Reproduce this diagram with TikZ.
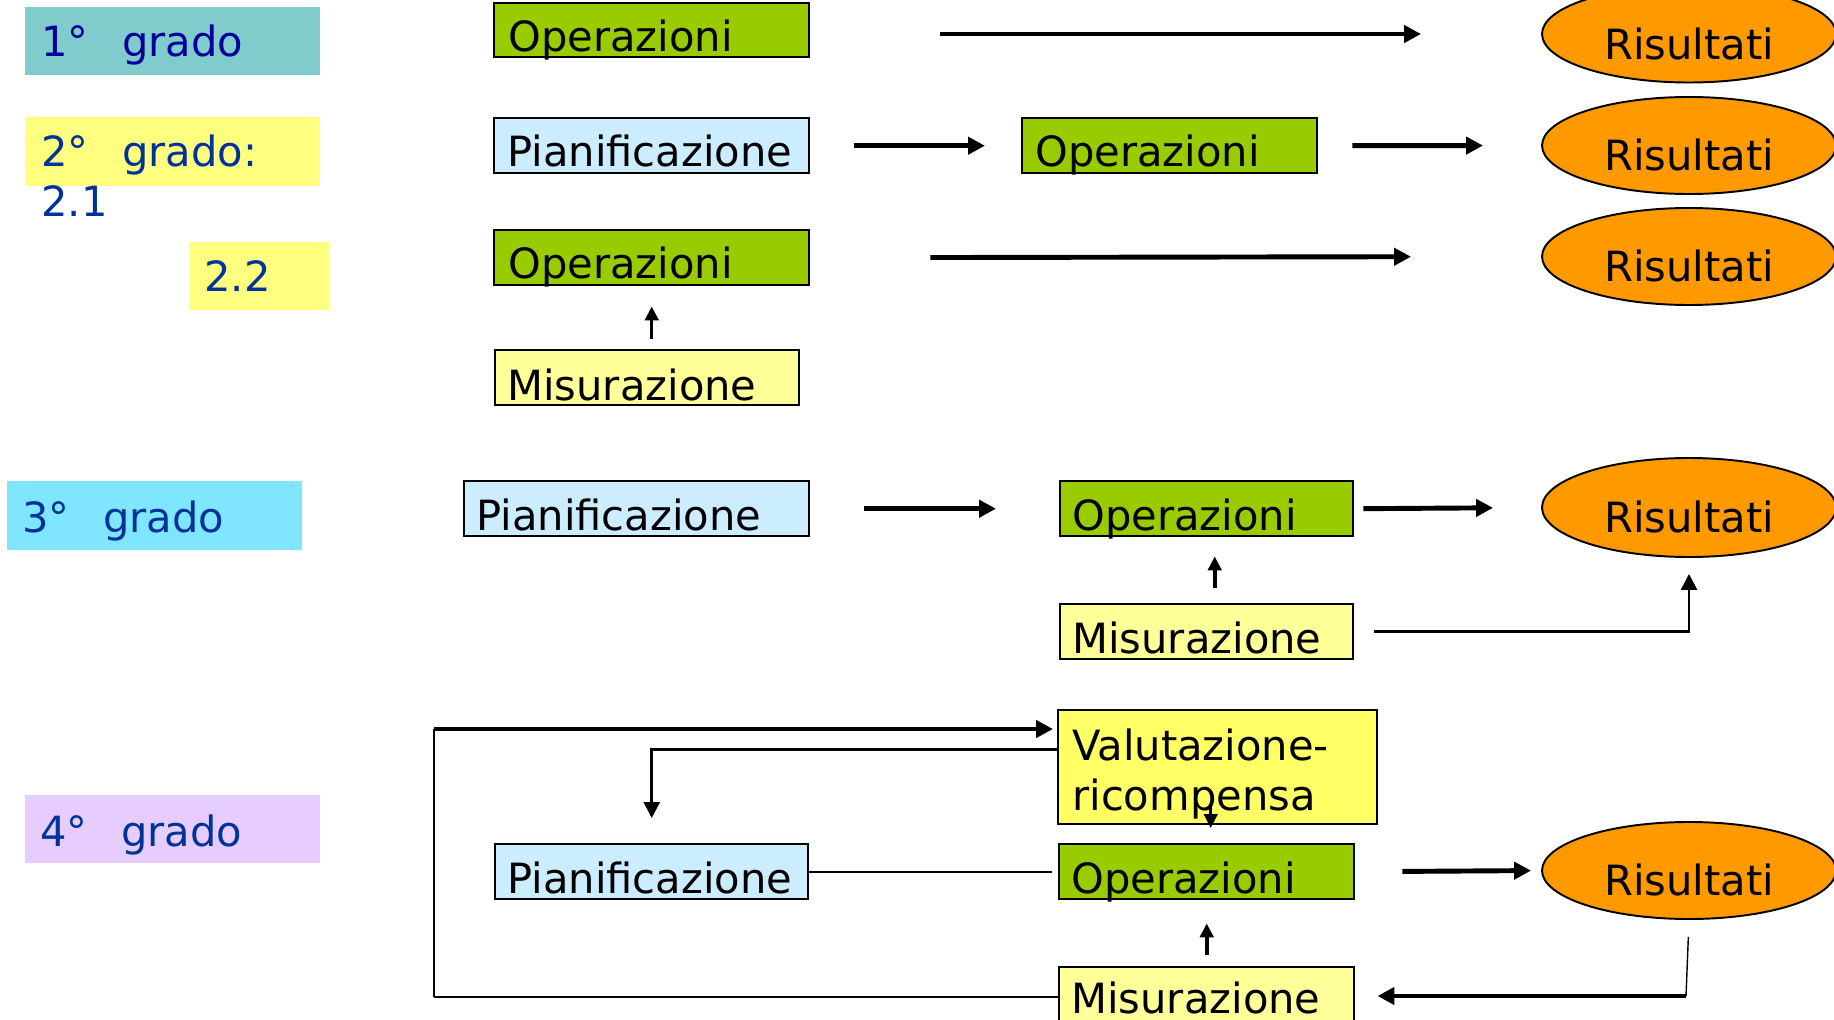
\documentclass[tikz,border=0pt]{standalone}
\usepackage{fontspec}
\setmainfont{DejaVu Sans}
\usetikzlibrary{arrows.meta,calc,shapes.geometric}
% one drawing unit = 0.02cm, usable inside pgfmath expressions
\newcommand{\pu}{*0.02cm}

\definecolor{tealbg}{HTML}{80CCCC}
\definecolor{yellowbg}{HTML}{FFFF80}
\definecolor{cyanbg}{HTML}{80E6FF}
\definecolor{lilacbg}{HTML}{E6CCFF}
\definecolor{navytxt}{HTML}{000099}
\definecolor{bluetxt}{HTML}{003399}
\definecolor{opgreen}{HTML}{99CC00}
\definecolor{planblue}{HTML}{CCECFF}
\definecolor{measyellow}{HTML}{FFFF99}
\definecolor{evalyellow}{HTML}{FFFF66}
\definecolor{resorange}{HTML}{FF9900}

\tikzset{
  txt/.style={font=\fontsize{23.7}{28}\selectfont, inner sep=0pt, anchor=base west},
  gradetag/.style={inner sep=0pt, anchor=north west, draw=none},
  stepbox/.style={draw=black, line width=1.4pt, inner sep=0pt, anchor=north west},
  opbox/.style={stepbox, fill=opgreen, minimum height=55\pu},
  planbox/.style={stepbox, fill=planblue, minimum height=55\pu},
  measbox/.style={stepbox, fill=measyellow, minimum height=55\pu},
  resnode/.style={ellipse, draw=black, line width=1.1pt, fill=resorange,
    inner sep=0pt, minimum width=294\pu, minimum height=97\pu},
  bigarrow/.style={line width=2.8pt, -{Triangle[length=0.34cm,width=0.34cm]}},
  medarrow/.style={line width=1.5pt, -{Triangle[length=0.32cm,width=0.32cm]}},
  smallarrow/.style={line width=2pt, -{Triangle[length=0.28cm,width=0.27cm]}},
  plainline/.style={line width=1.3pt},
  hairline/.style={line width=0.8pt},
}

\newcommand{\tagtext}[2]{\makebox[1.62cm][l]{#1}#2}

\begin{document}
\begin{tikzpicture}[x=0.02cm, y=-0.02cm]
\useasboundingbox (0,0) rectangle (1834,1020);
\clip (0,0) rectangle (1834,1020);

% ---- grade labels on the left ----
\node[gradetag, fill=tealbg, minimum width=295\pu, minimum height=68\pu] (g1box) at (25,7) {};
\node[txt, text=navytxt] (g1) at (41,57) {\tagtext{1°}{grado}};

\node[gradetag, fill=yellowbg, minimum width=295\pu, minimum height=69\pu] (g2box) at (25,117) {};
\node[txt, text=bluetxt] (g2) at (41,167) {\tagtext{2°}{grado:}};
\node[txt, text=bluetxt] (g21) at (41,217) {2.1};

\node[gradetag, fill=yellowbg, minimum width=141\pu, minimum height=68\pu] (g22box) at (189,242) {};
\node[txt, text=bluetxt] (g22) at (204,292) {2.2};

\node[gradetag, fill=cyanbg, minimum width=295\pu, minimum height=69\pu] (g3box) at (7,481) {};
\node[txt, text=bluetxt] (g3) at (22,532) {\tagtext{3°}{grado}};

\node[gradetag, fill=lilacbg, minimum width=295\pu, minimum height=68\pu] (g4box) at (25,795) {};
\node[txt, text=bluetxt] (g4) at (40,846) {\tagtext{4°}{grado}};

% ---- first grade ----
\node[opbox, minimum width=315\pu, minimum height=54\pu] (op1) at (493,2) {};
\node[txt] (op1t) at (508,52) {Operazioni};
\node[resnode] (res1) at (1689,34) {};
\node[txt, anchor=base] (res1t) at ([yshift=-26\pu]res1.center) {Risultati};
\draw[bigarrow, shorten <=130\pu, shorten >=120\pu] (op1.east |- res1) -- (res1.west);

% ---- second grade, 2.1 ----
\node[planbox, minimum width=315\pu] (pl2) at (493,117) {};
\node[txt] (pl2t) at (507,167) {Pianificazione};
\node[opbox, minimum width=295\pu] (op2) at (1021,117) {};
\node[txt] (op2t) at (1035,167) {Operazioni};
\node[resnode] (res2) at (1689,145.5) {};
\node[txt, anchor=base] (res2t) at ([yshift=-25\pu]res2.center) {Risultati};
\draw[bigarrow, shorten <=44\pu, shorten >=36\pu] (pl2.east) -- (op2.west);
\draw[bigarrow, shorten <=34\pu, shorten >=58\pu] (op2.east) -- (res2.west);

% ---- second grade, 2.2 ----
\node[opbox, minimum width=315\pu] (op3) at (493,229) {};
\node[txt] (op3t) at (508,278) {Operazioni};
\node[measbox, minimum width=304\pu] (ms3) at (494,349) {};
\node[txt] (ms3t) at (507,400) {Misurazione};
\node[resnode] (res3) at (1689,256.5) {};
\node[txt, anchor=base] (res3t) at ([yshift=-25\pu]res3.center) {Risultati};
\draw[bigarrow, shorten <=120\pu, shorten >=130\pu] (op3.east) -- (res3.west);
\draw[smallarrow, shorten <=10\pu, shorten >=20\pu] (op3.south |- ms3.north) -- (op3.south);

% ---- third grade ----
\node[planbox, minimum width=345\pu] (pl4) at (463,480) {};
\node[txt] (pl4t) at (476,530) {Pianificazione};
\node[opbox, minimum width=293\pu] (op4) at (1059,480) {};
\node[txt] (op4t) at (1072,530) {Operazioni};
\node[measbox, minimum width=293\pu] (ms4) at (1059,603) {};
\node[txt] (ms4t) at (1072,653) {Misurazione};
\node[resnode, minimum height=99\pu] (res4) at (1689,507.5) {};
\node[txt, anchor=base] (res4t) at ([yshift=-25\pu]res4.center) {Risultati};
\draw[bigarrow, shorten <=54\pu, shorten >=63\pu] (pl4.east) -- (op4.west);
\draw[bigarrow, shorten <=9\pu, shorten >=48\pu] (op4.east) -- (res4.west);
\draw[smallarrow, shorten <=15\pu, shorten >=19\pu]
  ([xshift=8\pu]op4.south |- ms4.north) -- ([xshift=8\pu]op4.south);
\draw[medarrow, shorten <=20\pu, shorten >=16\pu] (ms4.east) -| (res4.south);

% ---- fourth grade ----
\node[stepbox, fill=evalyellow, minimum width=319\pu, minimum height=114\pu] (val) at (1057,709) {};
\node[txt] (valt1) at (1072,760) {Valutazione-};
\node[txt] (valt2) at (1072,810) {ricompensa};
\node[planbox, minimum width=313\pu] (pl5) at (494,843) {};
\node[txt] (pl5t) at (507,893) {Pianificazione};
\node[opbox, minimum width=295\pu] (op5) at (1058,843) {};
\node[txt] (op5t) at (1071,893) {Operazioni};
\node[measbox, minimum width=295\pu, minimum height=60\pu] (ms5) at (1058,966) {};
\node[txt] (ms5t) at (1071,1013) {Misurazione};
\node[resnode] (res5) at (1689,870.5) {};
\node[txt, anchor=base] (res5t) at ([yshift=-25\pu]res5.center) {Risultati};

\coordinate (loopTop) at (434,729);
\coordinate (loopBot) at (loopTop |- ms5.west);
\coordinate (retCorner) at (1686,996);

% feedback loop from measurement back to evaluation
\draw[plainline] (ms5.west) -- (loopBot);
\draw[hairline] (loopBot) -- (loopTop);
\draw[bigarrow, shorten >=4\pu] (loopTop) -- (loopTop -| val.west);
% evaluation back to planning
\draw[medarrow, shorten >=25\pu] ([yshift=18\pu]val.west) -| (pl5.north);
% evaluation down to operations
\draw[smallarrow, line width=1.6pt] ([xshift=-7\pu,yshift=20\pu]val.south) -- ([xshift=-7\pu,yshift=15\pu]op5.north -| val.south);
% planning joined to operations
\draw[plainline, shorten >=6\pu] (pl5.east) -- (op5.west);
% operations to results
\draw[bigarrow, shorten <=47\pu, shorten >=10\pu] (op5.east) -- (res5.west);
% measurement up to operations
\draw[smallarrow, shorten <=11\pu, shorten >=23\pu] (op5.south |- ms5.north) -- (op5.south);
% results back to measurement
\draw[hairline, shorten <=17\pu] (res5.south) -- (retCorner);
\draw[bigarrow, shorten >=22\pu] (retCorner) -- (retCorner -| ms5.east);

\end{tikzpicture}
\end{document}
